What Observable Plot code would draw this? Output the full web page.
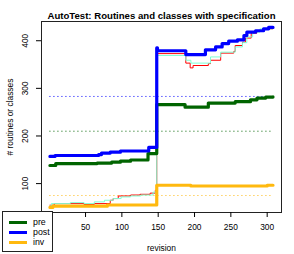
<!DOCTYPE html>
<html>
<head>
<meta charset="utf-8">
<script src="https://cdn.jsdelivr.net/npm/d3@7"></script>
<script src="https://cdn.jsdelivr.net/npm/@observablehq/plot@0.6"></script>
<style>
  html, body { margin: 0; padding: 0; background: white; }
  #wrap { position: relative; width: 294px; height: 254px; font-family: "Liberation Sans", Arial, sans-serif; }
  #legend { position: absolute; left: 2px; top: 211px; width: 49px; height: 39px; border: 1px solid #222; background: white; font-size: 8.8px; }
  .item { position: absolute; left: 6px; height: 10px; line-height: 10px; }
  .item span.sw { position: absolute; left: 0; top: 3.5px; width: 18px; height: 3px; }
  .item span.tx { position: absolute; left: 24px; top: 0; white-space: nowrap; }
</style>
</head>
<body>
<div id="wrap"><div id="chart"></div><div id="legend"></div></div>
<script>
const title = "AutoTest: Routines and classes with specification";
const xLabel = "revision";
const yLabel = "# routines or classes";
const xTicks = [50, 100, 150, 200, 250, 300];
const yTicks = [100, 200, 300, 400];

const seriesNames = ["pre", "post", "inv", "all", "classes"];
const legendNames = ["pre", "post", "inv"];

const preRev = [1, 9, 66, 86, 98, 112, 136, 148, 187, 219, 256, 277, 286, 298, 308];
const preVal = [138, 142, 143, 145, 147, 149.5, 163, 266, 260.5, 269, 272, 276, 279.5, 281.6, 282];

const postRev = [1, 8, 68, 72, 84, 98, 137, 148, 149, 188, 215, 229, 238, 247, 259, 268, 272, 284, 295, 302, 308];
const postVal = [157, 159, 161, 164, 166, 168.5, 176, 385, 379, 371, 381, 387, 394, 399, 402, 411, 418, 421, 425, 428, 428];

const invRev = [1, 5, 80, 148, 195, 300, 308];
const invVal = [50, 52.5, 55, 96.5, 95, 96.5, 96.5];

const allRev = [1, 7, 48, 62, 84, 88, 95, 112, 125, 139, 146, 148, 188, 194, 198, 219, 222, 236, 254, 256, 266, 270, 278, 286, 295, 308];
const allVal = [54.6, 58, 56, 58, 65, 68.6, 74, 76, 77.5, 80, 86, 373, 353, 343, 348, 352, 359, 374, 377.6, 390, 397, 405.6, 416, 421.5, 425, 427];

const classesRev = [1, 3, 29, 48, 62, 76, 88, 99, 112, 126, 143, 148, 188, 195, 222, 236, 256, 266, 272, 280, 290, 308];
const classesVal = [53, 58, 60, 58, 61.6, 65, 68.6, 72, 74, 76, 82, 369, 359, 353, 366, 376, 387, 396, 408, 418, 425, 427];

const refNames = ["post", "pre", "inv"];
const refVal = [283, 210, 75];

const colorRange = ["#006400", "#0000FF", "#FFB90F", "#FF0000", "#7FFFD4"];

function rows(name, revs, vals) { return revs.map((r, i) => ({series: name, rev: r, val: vals[i]})); }
const thick = [...rows("pre", preRev, preVal), ...rows("post", postRev, postVal), ...rows("inv", invRev, invVal)];
const thin = [...rows("all", allRev, allVal), ...rows("classes", classesRev, classesVal)];
const xFirst = preRev[0], xLast = preRev[preRev.length - 1];
const refs = refNames.map((n, i) => ({series: n, val: refVal[i]}));

const mLeft = 41;
const chart = Plot.plot({
  width: 294, height: 254,
  marginLeft: mLeft, marginRight: 13, marginTop: 21, marginBottom: 42,
  style: {fontFamily: "'Liberation Sans', Arial, sans-serif", fontSize: "8px", background: "white", color: "black"},
  x: {domain: [-10.6, 319.7]},
  y: {domain: [39.3, 440.4]},
  color: {domain: seriesNames, range: colorRange},
  marks: [
    Plot.ruleY(refs, {y: "val", x1: xFirst, x2: xLast, stroke: "series", strokeDasharray: "1,3", strokeWidth: 1}),
    Plot.line(thin, {x: "rev", y: "val", z: "series", stroke: "series", strokeWidth: 1, curve: "step-after"}),
    Plot.line(thick, {x: "rev", y: "val", z: "series", stroke: "series", strokeWidth: 3.2, curve: "step-after"}),
    Plot.frame({stroke: "#222"}),
    Plot.axisX({ticks: xTicks, tickSize: 5, tickPadding: 7, fontSize: 8.4, label: xLabel, labelAnchor: "center", labelOffset: 38, labelArrow: "none"}),
    Plot.axisY({ticks: yTicks, tickSize: 5, tickFormat: () => "", fontSize: 8.4, label: yLabel, labelAnchor: "center", labelOffset: 34, labelArrow: "none"}),
    Plot.text(yTicks, {y: (d) => d, text: (d) => String(d), frameAnchor: "left", dx: -16, rotate: -90, fontSize: 8.4, textAnchor: "middle", lineAnchor: "middle", ariaLabel: "y-tick-labels"}),
    Plot.text([title], {frameAnchor: "top", dy: -9, fontWeight: "bold", fontSize: 9.6})
  ]
});
document.getElementById("chart").appendChild(chart);

// make sure the rotated tick labels are centred 16px left of the frame
const svgEl = chart.tagName.toLowerCase() === "svg" ? chart : chart.querySelector("svg");
const tg = svgEl.querySelector('g[aria-label="y-tick-labels"]');
if (tg) {
  const sr = svgEl.getBoundingClientRect();
  const r = tg.getBoundingClientRect();
  const cx = (r.left + r.right) / 2 - sr.left;
  const shift = (mLeft - 16) - cx;
  if (Math.abs(shift) > 0.5) {
    tg.setAttribute("transform", `translate(${shift},0) ` + (tg.getAttribute("transform") || ""));
  }
}

const leg = document.getElementById("legend");
legendNames.forEach((n, i) => {
  const it = document.createElement("div");
  it.className = "item";
  it.style.top = (5 + i * 10.2) + "px";
  const sw = document.createElement("span");
  sw.className = "sw";
  sw.style.background = colorRange[seriesNames.indexOf(n)];
  const tx = document.createElement("span");
  tx.className = "tx";
  tx.textContent = n;
  it.appendChild(sw); it.appendChild(tx);
  leg.appendChild(it);
});
</script>
</body>
</html>
